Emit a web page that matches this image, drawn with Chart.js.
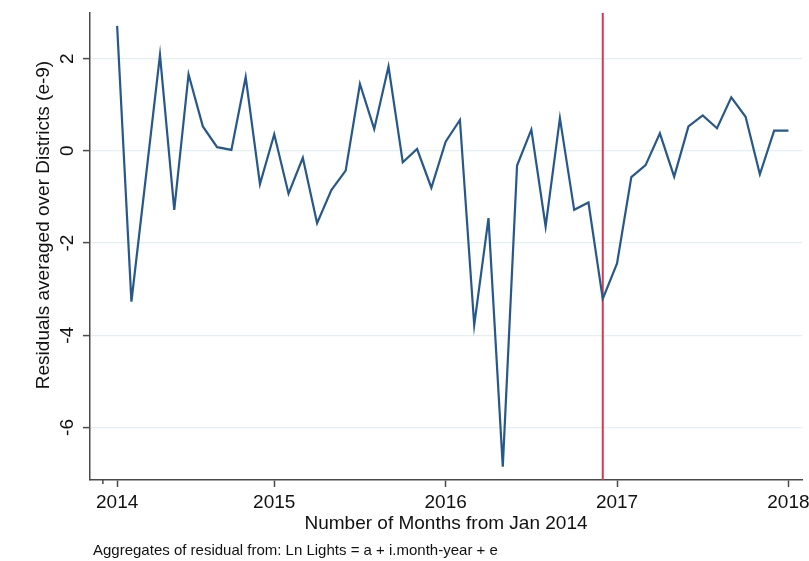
<!DOCTYPE html>
<html>
<head>
<meta charset="utf-8">
<script src="https://cdn.jsdelivr.net/npm/chart.js@4/dist/chart.umd.min.js"></script>
<style>
    html, body { margin: 0; padding: 0; background: #fff; }
    #wrap { width: 809px; height: 561px; }
</style>
</head>
<body>
<div id="wrap"><canvas id="residualsChart" width="809" height="561"></canvas></div>
<script>
// months since Jan 2014 (1 = Jan 2014)
const months = [
    1, 2, 3, 4, 5, 6, 7, 8, 9, 10, 11, 12,
    13, 14, 15, 16, 17, 18, 19, 20, 21, 22, 23, 24,
    25, 26, 27, 28, 29, 30, 31, 32, 33, 34, 35, 36,
    37, 38, 39, 40, 41, 42, 43, 44, 45, 46, 47, 48,
];
// mean residual over districts, in units of 1e-9
const residuals = [
    2.71, -3.27, -0.60, 2.08, -1.28, 1.66, 0.53, 0.08, 0.02, 1.60, -0.72, 0.36,
    -0.93, -0.15, -1.57, -0.85, -0.43, 1.45, 0.47, 1.83, -0.25, 0.04, -0.80, 0.20,
    0.67, -3.78, -1.46, -6.85, -0.32, 0.46, -1.64, 0.71, -1.28, -1.12, -3.21, -2.44,
    -0.57, -0.31, 0.38, -0.56, 0.53, 0.77, 0.49, 1.16, 0.74, -0.51, 0.44, 0.44,
];
const tickMonths = [1, 12, 24, 36, 48];
const tickYears = ['2014', '2015', '2016', '2017', '2018'];
const yTicks = [-6, -4, -2, 0, 2];
const eventMonth = 35;
const xRange = [-0.9, 48.95];
const yRange = [-7.14, 2.99];

const FONT = '"Liberation Sans", Arial, Helvetica, sans-serif';
const AXIS_COLOR = '#4a4a4a';
const TEXT_COLOR = '#111';

// y tick labels are rotated, plus the y title, caption and the short tick at 0
const extrasPlugin = {
    id: 'extras',
    afterDraw(chart) {
        const { ctx, scales: { x, y } } = chart;
        ctx.save();
        ctx.fillStyle = TEXT_COLOR;
        ctx.font = `19px ${FONT}`;
        ctx.textAlign = 'center';
        ctx.textBaseline = 'middle';
        yTicks.forEach((v) => {
            ctx.save();
            ctx.translate(68, y.getPixelForValue(v));
            ctx.rotate(-Math.PI / 2);
            ctx.fillText(String(v), 0, 0);
            ctx.restore();
        });

        ctx.save();
        ctx.translate(44, 225);
        ctx.rotate(-Math.PI / 2);
        ctx.fillText('Residuals averaged over Districts (e-9)', 0, 0);
        ctx.restore();

        ctx.font = `15px ${FONT}`;
        ctx.textAlign = 'left';
        ctx.fillText('Aggregates of residual from: Ln Lights = a + i.month-year + e', 93, 551);

        const x0 = x.getPixelForValue(0);
        ctx.strokeStyle = AXIS_COLOR;
        ctx.lineWidth = 1.5;
        ctx.beginPath();
        ctx.moveTo(x0, chart.chartArea.bottom);
        ctx.lineTo(x0, chart.chartArea.bottom + 4);
        ctx.stroke();
        ctx.restore();
    },
};

const chart = new Chart(document.getElementById('residualsChart').getContext('2d'), {
    type: 'line',
    data: {
        datasets: [
            {
                data: months.map((m, i) => ({ x: m, y: residuals[i] })),
                borderColor: '#27588a',
                borderWidth: 2.2,
                pointRadius: 0,
                tension: 0,
            },
            {
                data: [{ x: eventMonth, y: yRange[0] }, { x: eventMonth, y: yRange[1] }],
                borderColor: '#dc3550',
                borderWidth: 2,
                pointRadius: 0,
            },
        ],
    },
    options: {
        responsive: false,
        animation: false,
        devicePixelRatio: 1,
        layout: { padding: { top: 13, right: 7, left: 0, bottom: 0 } },
        plugins: {
            legend: { display: false },
            tooltip: { enabled: false },
        },
        scales: {
            x: {
                type: 'linear',
                min: xRange[0],
                max: xRange[1],
                afterBuildTicks: (scale) => {
                    scale.ticks = tickMonths.map((v) => ({ value: v }));
                },
                afterFit: (scale) => {
                    scale.height = 81;
                    scale.paddingLeft = 0;
                    scale.paddingRight = 0;
                },
                ticks: {
                    autoSkip: false,
                    maxRotation: 0,
                    padding: 4,
                    color: TEXT_COLOR,
                    font: { family: FONT, size: 19 },
                    callback: (value) => tickYears[tickMonths.indexOf(value)] ?? '',
                },
                grid: {
                    drawOnChartArea: false,
                    drawTicks: true,
                    tickLength: 7,
                    tickColor: AXIS_COLOR,
                    tickWidth: 1.5,
                },
                border: { color: AXIS_COLOR, width: 1.5 },
                title: {
                    display: true,
                    text: 'Number of Months from Jan 2014',
                    color: TEXT_COLOR,
                    font: { family: FONT, size: 19 },
                    padding: { top: 0, bottom: 26 },
                },
            },
            y: {
                type: 'linear',
                min: yRange[0],
                max: yRange[1],
                afterBuildTicks: (scale) => {
                    scale.ticks = yTicks.map((v) => ({ value: v }));
                },
                afterFit: (scale) => {
                    scale.width = 90;
                    scale.paddingTop = 0;
                    scale.paddingBottom = 0;
                },
                ticks: { display: false },
                grid: {
                    color: '#e4eff1',
                    lineWidth: 1.2,
                    drawTicks: true,
                    tickLength: 7,
                    tickColor: AXIS_COLOR,
                    tickWidth: 1.5,
                },
                border: { color: AXIS_COLOR, width: 1.5 },
            },
        },
    },
    plugins: [extrasPlugin],
});
</script>
</body>
</html>
